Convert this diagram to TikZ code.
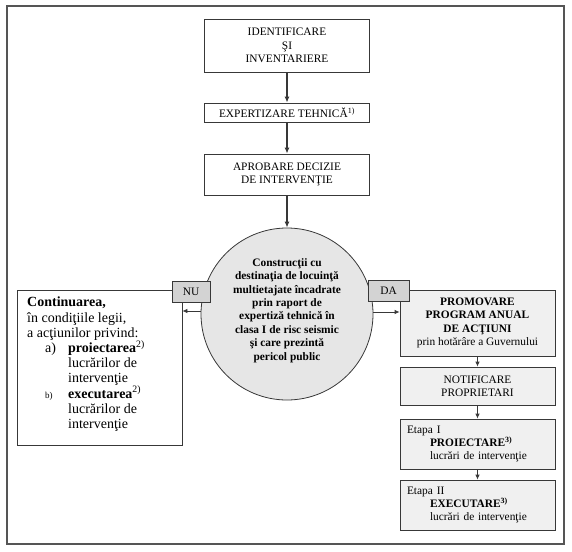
\documentclass[tikz,border=0pt]{standalone}
\usepackage{fontspec}
\setmainfont{Liberation Serif}
\usetikzlibrary{arrows.meta}
\definecolor{framec}{HTML}{555555}
\definecolor{linec}{HTML}{383838}
\definecolor{circfill}{HTML}{E6E6E6}
\definecolor{tagfill}{HTML}{D3D3D3}
\definecolor{boxfill}{HTML}{F0F0F0}
\begin{document}
\begin{tikzpicture}[x=1pt,y=-1pt,
  box/.style={draw=linec, line width=0.8pt, rectangle, inner sep=0pt, align=center, font=\fontsize{11.4}{13.5}\selectfont},
  rbox/.style={box, fill=boxfill, font=\fontsize{11.4}{13.3}\selectfont},
  tag/.style={draw=linec, line width=0.8pt, fill=tagfill, inner sep=0pt, font=\fontsize{11.4}{13}\selectfont},
  arr/.style={draw=linec, line width=1.2pt, -{Latex[length=6pt,width=5pt]}},
  sarr/.style={draw=linec, line width=0.8pt, -{Latex[length=5pt,width=4.5pt]}},
]
\useasboundingbox (0,0) rectangle (572,551);
\draw[framec, line width=1.6pt] (7,6) rectangle (564,544);

\node[box, minimum width=165pt, minimum height=53pt] (b1) at (287,45.5)
  {\fontsize{11.4}{14.2}\selectfont IDENTIFICARE\\ŞI\\INVENTARIERE};
\node[box, minimum width=165pt, minimum height=19pt] (b2) at (287,112.5)
  {EXPERTIZARE TEHNICĂ\textsuperscript{1)}};
\node[box, minimum width=165pt, minimum height=41pt] (b3) at (287,174.5)
  {APROBARE DECIZIE\\DE INTERVENŢIE};

\node[circle, draw=linec, line width=0.8pt, fill=circfill, minimum size=172pt, inner sep=0pt] (circ) at (287,314) {};
\node[align=center, inner sep=0pt, font=\bfseries\fontsize{11.4}{13.4}\selectfont] (circtxt) at (287,310.5)
  {Construcţii cu\\destinaţia de locuinţă\\multietajate încadrate\\prin raport de\\expertiză tehnică în\\clasa I de risc seismic\\şi care prezintă\\pericol public};

\node[box, minimum width=165pt, minimum height=155pt] (left) at (99.5,367.5) {};
\node[anchor=north west, inner sep=0pt, align=left, font=\fontsize{14}{15.2}\selectfont] (lefttxt) at (27,297)
  {\textbf{Continuarea,}\\
   în condiţiile legii,\\
   a acţiunilor privind:\\
   \hspace*{18pt}\makebox[23pt][l]{a)}\textbf{proiectarea}\textsuperscript{2)}\\
   \hspace*{41pt}lucrărilor de\\
   \hspace*{41pt}intervenţie\\
   \hspace*{18pt}\makebox[23pt][l]{\fontsize{9}{10}\selectfont b)}\textbf{executarea}\textsuperscript{2)}\\
   \hspace*{41pt}lucrărilor de\\
   \hspace*{41pt}intervenţie};

\node[rbox, minimum width=155pt, minimum height=66pt] (prom) at (477.5,323)
  {\textbf{PROMOVARE}\\\textbf{PROGRAM ANUAL}\\\textbf{DE ACŢIUNI}\\prin hotărâre a Guvernului};
\node[rbox, minimum width=155pt, minimum height=38pt] (notif) at (477.5,386)
  {NOTIFICARE\\PROPRIETARI};
\node[rbox, minimum width=155pt, minimum height=50pt, text width=141pt, align=left, font=\fontsize{11.4}{12.6}\selectfont] (et1) at (477.5,444)
  {Etapa I\\\hspace*{23pt}\textbf{PROIECTARE}\textsuperscript{\textbf{3)}}\\\hspace*{23pt}lucrări de intervenţie};
\node[rbox, minimum width=155pt, minimum height=50pt, text width=141pt, align=left, font=\fontsize{11.4}{12.6}\selectfont] (et2) at (477.5,505)
  {Etapa II\\\hspace*{23pt}\textbf{EXECUTARE}\textsuperscript{\textbf{3)}}\\\hspace*{23pt}lucrări de intervenţie};

\node[tag, minimum width=38pt, minimum height=21pt] (nu) at (191,291.5) {NU};
\node[tag, minimum width=41pt, minimum height=21pt] (da) at (388.5,290.5) {DA};

\draw[arr] (b1.south) -- (b2.north);
\draw[arr] (b2.south) -- (b3.north);
\draw[arr] (b3.south) -- (circ.north);
\draw[sarr] ([yshift=3pt]circ.west) -- ([yshift=3pt]circ.west -| left.east);
\draw[sarr] ([yshift=2pt]circ.east) -- ([yshift=2pt]circ.east -| prom.west);
\draw[sarr] (prom.south) -- (notif.north);
\draw[sarr] (notif.south) -- (et1.north);
\draw[sarr] (et1.south) -- (et2.north);
\end{tikzpicture}
\end{document}
